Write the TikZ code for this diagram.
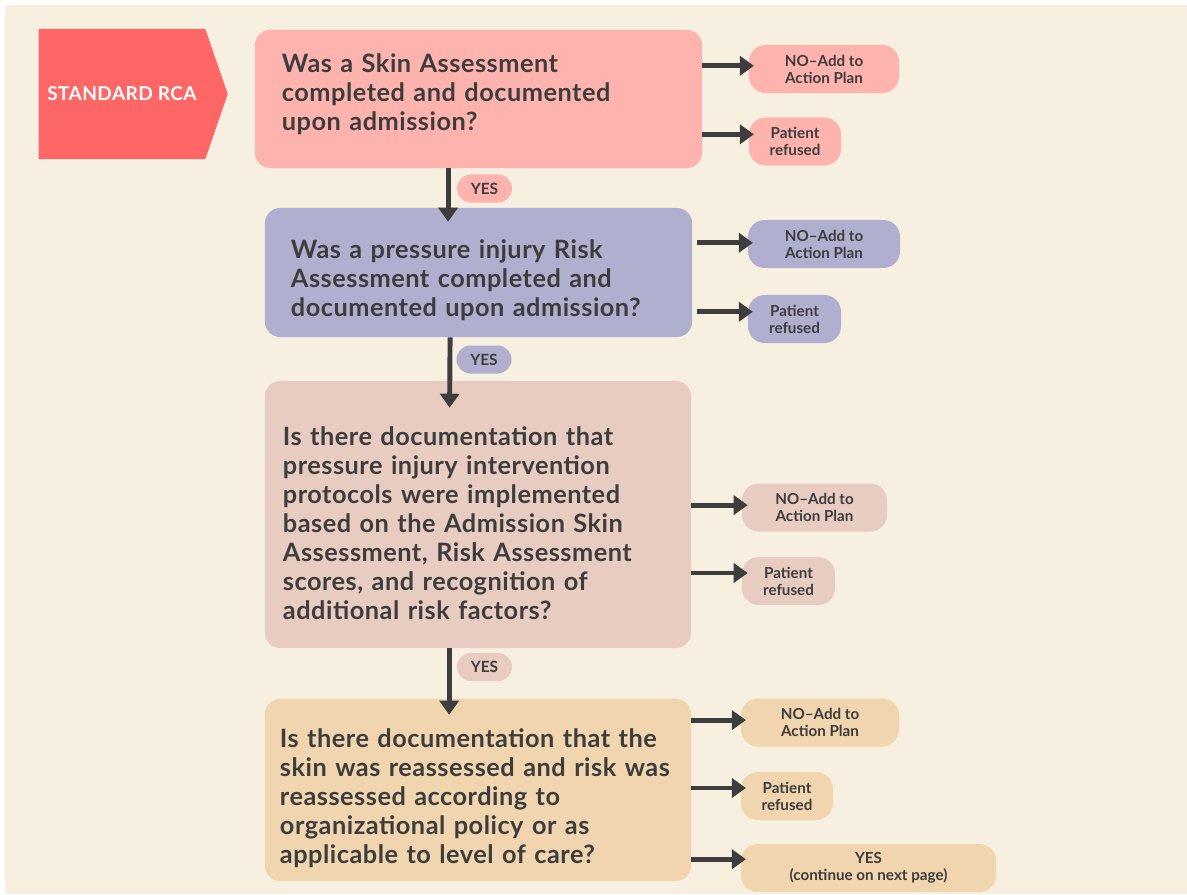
\documentclass[tikz,border=0pt]{standalone}
\usepackage{fontspec}
\setmainfont{Lato}
\newfontfamily\qfont[LetterSpace=2]{Lato}
\usetikzlibrary{shapes.symbols}
\usetikzlibrary{arrows.meta}

\definecolor{bgcream}{HTML}{F7EFE0}
\definecolor{rcared}{HTML}{FF6666}
\definecolor{skinpink}{HTML}{FFB3AE}
\definecolor{risklilac}{HTML}{B0AFCF}
\definecolor{protorose}{HTML}{E8CCC1}
\definecolor{reasstan}{HTML}{F0D5AE}
\definecolor{inkgray}{HTML}{3D3D3D}

\tikzset{
  question/.style={rectangle, rounded corners=0.38cm, inner sep=0pt, align=left,
    text=inkgray, font=\qfont\fontsize{18}{20.6}\selectfont\bfseries},
  answer/.style={rectangle, rounded corners=0.42cm, inner sep=0pt, align=center,
    text=inkgray, minimum height=1.2cm, font=\fontsize{10.8}{12}\selectfont\bfseries},
  yestag/.style={rectangle, rounded corners=0.35cm, inner sep=0pt, minimum width=1.375cm,
    minimum height=0.7cm, text=inkgray, font=\fontsize{11}{12}\selectfont\bfseries},
  flow/.style={draw=inkgray, line width=3.5pt, -{Triangle[length=0.35cm,width=0.475cm]}},
}

\begin{document}
\begin{tikzpicture}[x=0.025cm, y=-0.025cm]

  % page and background
  \useasboundingbox (0,0) rectangle (1187,894);
  \fill[white] (0,0) rectangle (1187,894);
  \fill[bgcream] (5,5) rectangle (1187,894);

  % start marker
  \node[signal, signal to=east, signal pointer angle=142, fill=rcared, text=white,
        minimum width=4.725cm, minimum height=3.25cm, inner sep=0pt,
        font=\qfont\fontsize{13.6}{15}\selectfont\bfseries] (rca) at (122,94) {STANDARD RCA};

  % questions
  \node[question, fill=skinpink, minimum width=11.175cm, minimum height=3.45cm, text width=9.825cm]
       (q1) at (478.5,99) {Was a Skin Assessment\\completed and documented\\upon admission?\par\vspace*{7pt}};
  \node[question, fill=risklilac, minimum width=10.675cm, minimum height=3.225cm, text width=9.375cm]
       (q2) at (478.5,272.5) {\rule{0pt}{25pt}Was a pressure injury Risk\\Assessment completed and\\documented upon admission?};
  \node[question, fill=protorose, minimum width=10.65cm, minimum height=6.675cm, text width=9.75cm]
       (q3) at (478,514.5) {\rule{0pt}{26pt}Is there documentation that\\pressure injury intervention\\protocols were implemented\\based on the Admission Skin\\Assessment, Risk Assessment\\scores, and recognition of\\additional risk factors?};
  \node[question, fill=reasstan, minimum width=10.65cm, minimum height=4.55cm, text width=9.9cm]
       (q4) at (478,790) {\rule{0pt}{25pt}Is there documentation that the\\skin was reassessed and risk was\\reassessed according to\\organizational policy or as\\applicable to level of care?};

  % yes tags between questions
  \node[yestag, fill=skinpink] (yes1) at (484.5,188.5) {YES};
  \node[yestag, fill=risklilac] (yes2) at (484,359.5) {YES};
  \node[yestag, fill=protorose] (yes3) at (484.5,667) {YES};

  \draw[flow] ([xshift=-0.76cm]q1.south) -- ([xshift=-0.76cm, yshift=-0.35cm]q2.north);
  \draw[flow] ([xshift=-0.71cm]q2.south) -- ([xshift=-0.71cm, yshift=-0.675cm]q3.north);
  \draw[flow] ([xshift=-0.72cm]q3.south) -- ([xshift=-0.72cm, yshift=-0.4cm]q4.north);

  % answers, first question
  \node[answer, fill=skinpink, minimum width=3.75cm] (no1) at (824,69) {NO–Add to\\Action Plan};
  \node[answer, fill=skinpink, minimum width=2.3cm] (ref1) at (795,141.5) {Patient\\refused};
  \draw[flow] ([yshift=0.08cm]no1.west -| q1.east) -- ([xshift=0.13cm, yshift=0.08cm]no1.west);
  \draw[flow] ([yshift=0.18cm]ref1.west -| q1.east) -- ([xshift=0.13cm, yshift=0.18cm]ref1.west);

  % answers, second question
  \node[answer, fill=risklilac, minimum width=3.8cm] (no2) at (824,244) {NO–Add to\\Action Plan};
  \node[answer, fill=risklilac, minimum width=2.325cm] (ref2) at (794.5,319) {Patient\\refused};
  \draw[flow] ([xshift=0.125cm, yshift=0.03cm]no2.west -| q2.east) -- ([xshift=0.13cm, yshift=0.03cm]no2.west);
  \draw[flow] ([xshift=0.125cm, yshift=0.18cm]ref2.west -| q2.east) -- ([xshift=0.13cm, yshift=0.18cm]ref2.west);

  % answers, third question
  \node[answer, fill=protorose, minimum width=3.625cm] (no3) at (814.5,507.5) {NO–Add to\\Action Plan};
  \node[answer, fill=protorose, minimum width=2.325cm] (ref3) at (788.5,581) {Patient\\refused};
  \draw[flow] ([yshift=0.06cm]no3.west -| q3.east) -- ([xshift=0.15cm, yshift=0.06cm]no3.west);
  \draw[flow] ([yshift=0.2cm]ref3.west -| q3.east) -- ([xshift=0.15cm, yshift=0.2cm]ref3.west);

  % answers, fourth question
  \node[answer, fill=reasstan, minimum width=3.95cm] (no4) at (820,722.5) {NO–Add to\\Action Plan};
  \node[answer, fill=reasstan, minimum width=2.3cm] (ref4) at (787,796) {Patient\\refused};
  \node[answer, fill=reasstan, minimum width=6.375cm] (next) at (868.5,868) {YES\\(continue on next page)};
  \draw[flow] ([yshift=0.06cm]no4.west -| q4.east) -- ([xshift=0.13cm, yshift=0.06cm]no4.west);
  \draw[flow] ([yshift=0.2cm]ref4.west -| q4.east) -- ([xshift=0.13cm, yshift=0.2cm]ref4.west);
  \draw[flow] ([yshift=0.22cm]next.west -| q4.east) -- ([xshift=0.13cm, yshift=0.22cm]next.west);

\end{tikzpicture}
\end{document}
